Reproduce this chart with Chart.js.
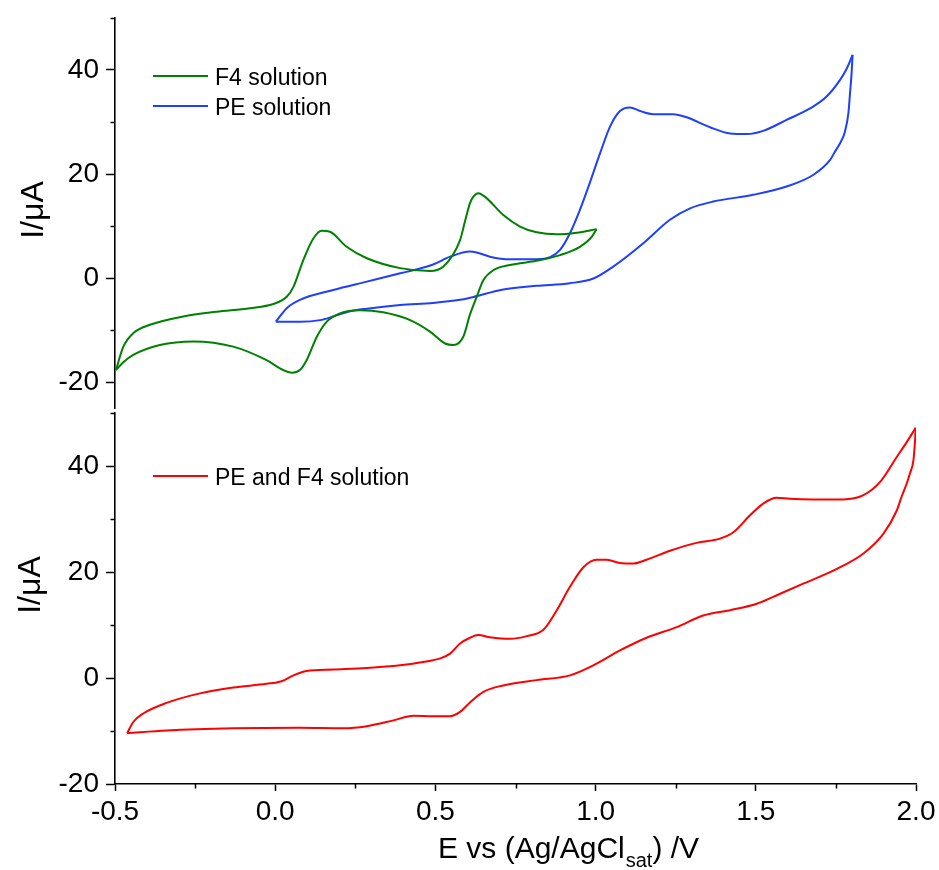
<!DOCTYPE html>
<html>
<head>
<meta charset="utf-8">
<script src="https://cdn.jsdelivr.net/npm/chart.js@4.4.1/dist/chart.umd.min.js"></script>
<style>
html,body{margin:0;padding:0;background:#fff;}
#wrap{position:relative;width:939px;height:870px;background:#fff;}
canvas{position:absolute;left:0;}
#c1{top:0;width:939px;height:410px;}
#c2{top:410px;width:939px;height:460px;}
</style>
</head>
<body>
<div id="wrap">
<canvas id="c1" width="939" height="410"></canvas>
<canvas id="c2" width="939" height="460"></canvas>
</div>
<script>
// ---- axis ticks ----
const xMajorTicks = [-0.5, 0, 0.5, 1, 1.5, 2];
const xMinorTicks = [-0.25, 0.25, 0.75, 1.25, 1.75];
const yMajorTicks = [-20, 0, 20, 40];
const yMinorTicks = [-10, 10, 30, 50];

// ---- series labels ----
const seriesLabels = ['F4 solution', 'PE solution', 'PE and F4 solution'];
const seriesColors = ['#008000', '#1f3fff', '#ff0000'];

// ---- F4 solution (E / V, I / uA), loop order ----
const f4E = [-0.497,-0.474,-0.443,-0.391,-0.287,-0.183,-0.079,-0.006,0.036,0.057,0.088,0.119,0.145,0.171,0.223,0.286,0.39,0.483,0.525,0.577,0.592,0.608,0.618,0.634,0.655,0.712,0.764,0.816,0.879,0.941,1.003,
             0.988,0.951,0.889,0.816,0.733,0.681,0.65,0.629,0.608,0.587,0.556,0.53,0.483,0.421,0.337,0.265,0.202,0.161,0.13,0.098,0.077,0.052,0.025,-0.027,-0.131,-0.256,-0.36,-0.443,-0.474,-0.497];
const f4I = [-17.7,-13.2,-10.6,-9.0,-7.4,-6.5,-5.8,-5.0,-3.6,-1.7,3.5,7.6,9.1,8.9,6.0,3.8,1.9,1.35,2.2,7.3,10.8,14.4,15.6,16.3,15.6,12.1,9.9,8.8,8.4,8.7,9.4,
             7.9,6.0,4.4,3.3,2.5,1.5,-0.4,-3.6,-7.0,-11.3,-12.9,-12.6,-10.3,-8.1,-6.6,-6.2,-6.8,-8.4,-11.3,-15.8,-17.7,-18.2,-17.7,-15.8,-13.2,-12.2,-12.9,-14.8,-16.2,-17.7];

// ---- PE solution ----
const peE = [0.002,0.036,0.077,0.181,0.286,0.39,0.493,0.546,0.608,0.629,0.67,0.733,0.816,0.858,0.889,0.92,0.951,0.983,1.014,1.045,1.076,1.107,1.139,1.18,1.243,1.284,1.357,1.42,1.472,1.523,1.596,1.669,1.721,1.763,1.784,1.802,
             1.799,1.794,1.789,1.778,1.763,1.747,1.732,1.679,1.596,1.492,1.367,1.295,1.232,1.149,1.055,0.993,0.92,0.816,0.712,0.608,0.577,0.493,0.39,0.286,0.234,0.181,0.14,0.077,0.002];
const peI = [-8.4,-5.8,-4.2,-2.3,-0.7,0.9,2.6,4.1,5.1,4.9,4.1,3.6,3.6,4.0,5.4,8.6,13.1,18.5,24.0,29.1,32.1,32.8,32.1,31.5,31.5,30.9,29.0,27.8,27.7,28.3,30.4,32.6,34.9,38.1,40.3,42.9,
             39.4,35.5,31.7,28.1,25.9,24.3,22.7,19.8,17.6,16.0,14.7,13.4,11.2,6.7,2.2,-0.1,-1.0,-1.5,-2.2,-3.8,-4.2,-4.8,-5.2,-5.9,-6.4,-7.4,-8.1,-8.4,-8.4];

// ---- PE and F4 solution ----
const mixE = [-0.462,-0.443,-0.412,-0.339,-0.235,-0.131,-0.027,0.02,0.057,0.098,0.181,0.286,0.39,0.462,0.515,0.546,0.577,0.608,0.634,0.67,0.733,0.785,0.837,0.879,0.92,0.962,1.003,1.035,1.076,1.118,1.159,1.232,1.315,1.388,1.43,1.482,1.523,1.565,1.607,1.68,1.773,1.836,1.888,1.94,1.971,1.999,
              1.997,1.992,1.981,1.971,1.955,1.94,1.898,1.836,1.753,1.648,1.576,1.503,1.42,1.336,1.253,1.159,1.076,0.993,0.92,0.816,0.712,0.65,0.608,0.577,0.546,0.493,0.431,0.369,0.286,0.213,0.077,-0.131,-0.339,-0.462];
const mixI = [-10.4,-8.3,-6.7,-4.7,-2.9,-1.8,-1.1,-0.6,0.5,1.3,1.6,1.9,2.4,3.0,3.7,4.6,6.5,7.6,8.1,7.7,7.4,7.9,9.1,12.8,17.2,20.9,22.3,22.3,21.7,21.6,22.3,24.0,25.5,26.3,27.5,30.7,32.9,34.0,33.8,33.7,33.7,34.5,37.0,41.7,44.5,47.2,
              44.8,41.1,38.6,36.7,34.2,31.6,27.2,23.5,20.6,17.8,15.9,14.0,12.8,11.8,9.6,7.6,5.2,2.4,0.5,-0.4,-1.4,-2.6,-4.6,-6.4,-7.2,-7.2,-7.1,-8.0,-9.1,-9.5,-9.4,-9.5,-9.9,-10.4];

const FONT = '"Liberation Sans", Arial, Helvetica, sans-serif';

// split a loop at its switching potential into forward and reverse branches
function branches(E, I) {
  let k = 0;
  for (let i = 1; i < E.length; i++) if (E[i] > E[k]) k = i;
  const pts = E.map((e, i) => ({x: e, y: I[i]}));
  return [pts.slice(0, k + 1), pts.slice(k)];
}

function makeDatasets(E, I, idx) {
  const [fwd, rev] = branches(E, I);
  const base = {showLine: true, pointRadius: 0, borderWidth: 2, cubicInterpolationMode: 'monotone', fill: false,
                borderColor: seriesColors[idx], backgroundColor: seriesColors[idx]};
  return [
    Object.assign({label: seriesLabels[idx], data: fwd, legendEntry: true}, base),
    Object.assign({label: seriesLabels[idx] + ' (reverse)', data: rev, legendEntry: false}, base)
  ];
}

// plugin: minor ticks, legend, axis titles
function decorPlugin(cfg) {
  return {
    id: 'decor',
    afterDraw(chart) {
      const ctx = chart.ctx;
      const ys = chart.scales.y, xs = chart.scales.x;
      const area = chart.chartArea;
      ctx.save();
      ctx.strokeStyle = '#000';
      ctx.lineWidth = 1.5;
      // minor y ticks
      yMinorTicks.forEach(v => {
        if (v < ys.min || v > ys.max) return;
        const py = Math.round(ys.getPixelForValue(v)) + 0.5;
        ctx.beginPath(); ctx.moveTo(area.left - 4.5, py); ctx.lineTo(area.left, py); ctx.stroke();
      });
      // minor x ticks
      if (cfg.xAxis) {
        xMinorTicks.forEach(v => {
          const px = Math.round(xs.getPixelForValue(v)) + 0.5;
          ctx.beginPath(); ctx.moveTo(px, area.bottom); ctx.lineTo(px, area.bottom + 4.5); ctx.stroke();
        });
      }
      // legend
      let ly = cfg.legendY;
      chart.data.datasets.forEach(ds => {
        if (!ds.legendEntry) return;
        ctx.strokeStyle = ds.borderColor;
        ctx.lineWidth = 2;
        ctx.beginPath(); ctx.moveTo(153, ly); ctx.lineTo(208, ly); ctx.stroke();
        ctx.fillStyle = '#000';
        ctx.font = '23px ' + FONT;
        ctx.textAlign = 'left';
        ctx.textBaseline = 'alphabetic';
        ctx.fillText(ds.label, 215, ly + 8.5);
        ly += 30;
      });
      // y title
      ctx.save();
      ctx.translate(cfg.yTitleX, cfg.yTitleY);
      ctx.rotate(-Math.PI / 2);
      ctx.fillStyle = '#000';
      ctx.font = '32px ' + FONT;
      ctx.textAlign = 'center';
      ctx.textBaseline = 'alphabetic';
      ctx.fillText('I/\u03BCA', 0, 0);
      ctx.restore();
      // x title with subscript
      if (cfg.xAxis) {
        ctx.fillStyle = '#000';
        ctx.textAlign = 'left';
        ctx.textBaseline = 'alphabetic';
        let x = 438, y = cfg.xTitleY;
        ctx.font = '30px ' + FONT;
        const t1 = 'E vs (Ag/AgCl';
        ctx.fillText(t1, x, y); x += ctx.measureText(t1).width + 1;
        ctx.font = '20px ' + FONT;
        const t2 = 'sat';
        ctx.fillText(t2, x, y + 9); x += ctx.measureText(t2).width;
        ctx.font = '30px ' + FONT;
        ctx.fillText(') /V', x, y);
      }
      ctx.restore();
    }
  };
}

function yScale(min, max) {
  return {
    type: 'linear', min: min, max: max,
    afterBuildTicks: s => { s.ticks = yMajorTicks.map(v => ({value: v})); },
    afterFit: s => { s.width = 115; s.paddingTop = 0; s.paddingBottom = 0; },
    ticks: {color: '#000', font: {family: FONT, size: 28}, padding: 7},
    grid: {display: true, drawOnChartArea: false, drawTicks: true, tickLength: 9, tickWidth: 1.5, tickColor: '#000'},
    border: {display: true, color: '#000', width: 1.6}
  };
}

Chart.defaults.font.family = FONT;

new Chart(document.getElementById('c1'), {
  type: 'scatter',
  data: {datasets: [...makeDatasets(f4E, f4I, 0), ...makeDatasets(peE, peI, 1)]},
  options: {
    responsive: false, animation: false,
    layout: {padding: {top: 18, bottom: 2, left: 0, right: 23}},
    plugins: {legend: {display: false}, tooltip: {enabled: false}},
    scales: {
      x: {type: 'linear', min: -0.5, max: 2, display: false},
      y: yScale(-25, 50)
    }
  },
  plugins: [decorPlugin({xAxis: false, legendY: 76, yTitleX: 43, yTitleY: 210})]
});

new Chart(document.getElementById('c2'), {
  type: 'scatter',
  data: {datasets: makeDatasets(mixE, mixI, 2)},
  options: {
    responsive: false, animation: false,
    layout: {padding: {top: 3, bottom: 0, left: 0, right: 23}},
    plugins: {legend: {display: false}, tooltip: {enabled: false}},
    scales: {
      x: {
        type: 'linear', min: -0.5, max: 2,
        afterBuildTicks: s => { s.ticks = xMajorTicks.map(v => ({value: v})); },
        afterFit: s => { s.height = 86; s.paddingLeft = 0; s.paddingRight = 0; },
        ticks: {color: '#000', font: {family: FONT, size: 28}, padding: 4,
                callback: v => Number(v).toFixed(1)},
        grid: {display: true, drawOnChartArea: false, drawTicks: true, tickLength: 7, tickWidth: 1.5, tickColor: '#000'},
        border: {display: true, color: '#000', width: 1.6}
      },
      y: yScale(-20, 50)
    }
  },
  plugins: [decorPlugin({xAxis: true, legendY: 66, yTitleX: 40, yTitleY: 175, xTitleY: 448})]
});
</script>
</body>
</html>
